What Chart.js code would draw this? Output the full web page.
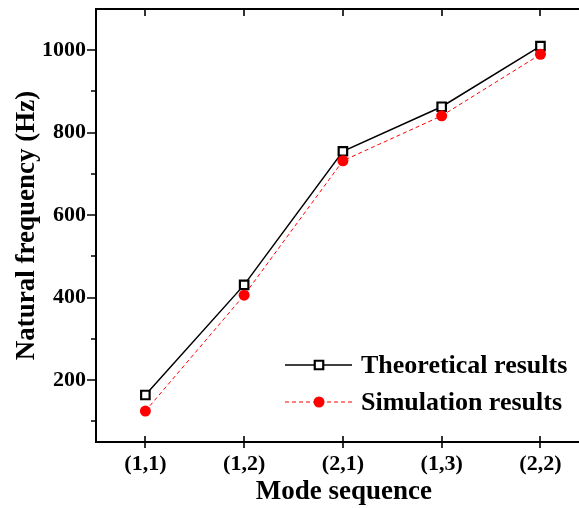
<!DOCTYPE html>
<html>
<head>
<meta charset="utf-8">
<script src="https://cdn.jsdelivr.net/npm/chart.js@4/dist/chart.umd.min.js"></script>
<style>
html,body{margin:0;padding:0;background:#fff;overflow:hidden;}
#wrap{width:579px;height:508px;position:relative;overflow:hidden;}
</style>
</head>
<body>
<div id="wrap"><canvas id="c" width="600" height="508"></canvas></div>
<script>
const categories = ["(1,1)", "(1,2)", "(2,1)", "(1,3)", "(2,2)"];
const theoretical = [164, 431, 755, 863, 1010];
const simulation = [125, 406, 732, 841, 990];
const yMajorTicks = [200, 400, 600, 800, 1000];
const yMinorTicks = [100, 300, 500, 700, 900];
const seriesNames = ["Theoretical results", "Simulation results"];
const xTitle = "Mode sequence";
const yTitle = "Natural frequency (Hz)";

const FONT = "'Liberation Serif', 'Times New Roman', serif";

const framePlugin = {
  id: 'frame',
  afterDraw(chart) {
    const ctx = chart.ctx;
    const a = chart.chartArea;
    const xs = chart.scales.x, ys = chart.scales.y;
    ctx.save();
    ctx.strokeStyle = '#000';
    ctx.lineWidth = 2;
    ctx.beginPath();
    ctx.moveTo(a.left, a.bottom); ctx.lineTo(a.left, a.top);
    ctx.moveTo(a.right, a.bottom); ctx.lineTo(a.right, a.top);
    ctx.moveTo(a.left - 1, a.top); ctx.lineTo(a.right, a.top);
    ctx.moveTo(a.left - 1, a.bottom); ctx.lineTo(a.right, a.bottom);
    ctx.stroke();
    ctx.lineWidth = 1.6;
    ctx.beginPath();
    yMajorTicks.forEach(v => { const y = Math.round(ys.getPixelForValue(v)); ctx.moveTo(a.left - 9, y); ctx.lineTo(a.left, y); });
    yMinorTicks.forEach(v => { const y = Math.round(ys.getPixelForValue(v)); ctx.moveTo(a.left - 5, y); ctx.lineTo(a.left, y); });
    categories.forEach((c, i) => {
      const x = Math.round(xs.getPixelForValue(i));
      ctx.moveTo(x, a.bottom - 6); ctx.lineTo(x, a.bottom + 6);
      ctx.moveTo(x, a.top); ctx.lineTo(x, a.top + 7);
    });
    ctx.stroke();

    // legend
    const rows = [
      {y: 365, ds: chart.data.datasets[0]},
      {y: 402, ds: chart.data.datasets[1]}
    ];
    rows.forEach(r => {
      const ds = r.ds;
      ctx.save();
      ctx.strokeStyle = ds.borderColor;
      ctx.lineWidth = ds.borderWidth;
      ctx.setLineDash(ds.borderDash || []);
      ctx.beginPath(); ctx.moveTo(285, r.y); ctx.lineTo(352, r.y); ctx.stroke();
      ctx.restore();
      ctx.save();
      ctx.fillStyle = ds.pointBackgroundColor;
      ctx.strokeStyle = ds.pointBorderColor;
      ctx.lineWidth = ds.pointBorderWidth;
      ctx.setLineDash([]);
      Chart.helpers.drawPoint(ctx, {pointStyle: ds.pointStyle, radius: ds.pointRadius, borderWidth: ds.pointBorderWidth, rotation: 0}, 319, r.y);
      ctx.restore();
      ctx.fillStyle = '#000';
      ctx.font = "bold 26px " + FONT;
      ctx.textBaseline = 'middle';
      ctx.textAlign = 'left';
      ctx.fillText(ds.label, 361, r.y + 1);
    });
    ctx.restore();
  }
};

new Chart(document.getElementById('c'), {
  type: 'line',
  data: {
    datasets: [
      {
        label: seriesNames[0],
        data: theoretical.map((v, i) => ({x: i, y: v})),
        borderColor: '#000',
        borderWidth: 1.5,
        pointStyle: 'rect',
        pointRadius: 6,
        pointBorderWidth: 2.2,
        pointBorderColor: '#000',
        pointBackgroundColor: '#fff',
        order: 2
      },
      {
        label: seriesNames[1],
        data: simulation.map((v, i) => ({x: i, y: v})),
        borderColor: '#ff0000',
        borderWidth: 1,
        borderDash: [4, 3],
        pointStyle: 'circle',
        pointRadius: 5.5,
        pointBorderWidth: 0,
        pointBorderColor: '#ff0000',
        pointBackgroundColor: '#ff0000',
        order: 1
      }
    ]
  },
  options: {
    responsive: false,
    animation: false,
    layout: {padding: {top: 9, right: 0, left: 0, bottom: 0}},
    plugins: {legend: {display: false}, tooltip: {enabled: false}},
    scales: {
      x: {
        type: 'linear',
        min: -0.5,
        max: 4.52,
        afterBuildTicks: s => { s.ticks = categories.map((c, i) => ({value: i})); },
        afterFit: s => { s.height = 66; s.paddingLeft = 0; s.paddingRight = 0; s.paddingTop = 0; s.paddingBottom = 0; },
        grid: {display: false, drawTicks: false},
        border: {display: false},
        ticks: {
          callback: v => categories[v],
          color: '#000',
          font: {family: FONT, size: 22, weight: 'bold'},
          padding: 9,
          maxRotation: 0,
          autoSkip: false
        },
        title: {display: true, text: xTitle, color: '#000', font: {family: FONT, size: 27, weight: 'bold', lineHeight: 1.2}, padding: {top: 0, bottom: 0}}
      },
      y: {
        min: 50,
        max: 1100,
        afterBuildTicks: s => { s.ticks = yMajorTicks.map(v => ({value: v})); },
        afterFit: s => { s.width = 96; s.paddingTop = 0; s.paddingBottom = 0; s.paddingLeft = 0; s.paddingRight = 0; },
        grid: {display: false, drawTicks: false},
        border: {display: false},
        ticks: {
          callback: v => String(v),
          color: '#000',
          font: {family: FONT, size: 22, weight: 'bold'},
          padding: 10
        },
        title: {display: true, text: yTitle, color: '#000', font: {family: FONT, size: 27, weight: 'bold', lineHeight: 1.2}, padding: {top: 11, bottom: 0}}
      }
    }
  },
  plugins: [framePlugin]
});
</script>
</body>
</html>
